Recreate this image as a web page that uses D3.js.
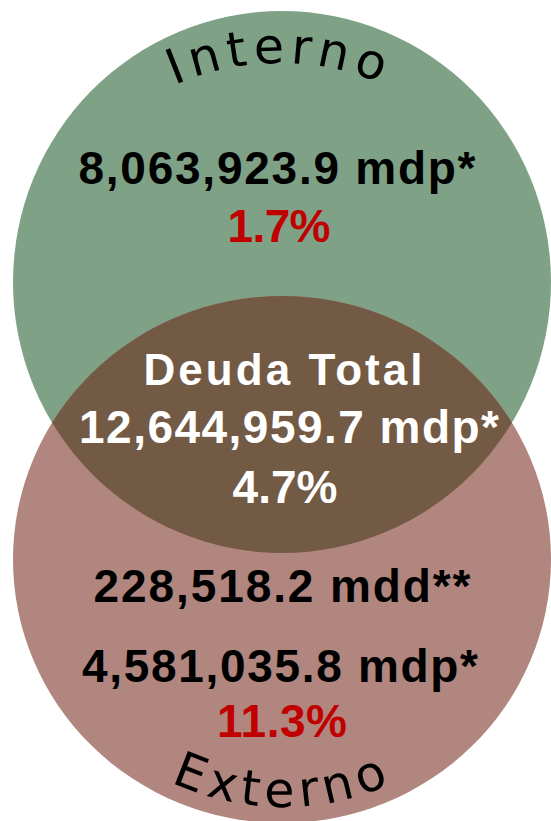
<!DOCTYPE html>
<html>
<head>
<meta charset="utf-8">
<script src="https://cdn.jsdelivr.net/npm/d3@7"></script>
<style>
  html, body { margin: 0; padding: 0; background: #ffffff; }
  svg { display: block; }
</style>
</head>
<body>
<svg id="chart" width="551" height="821"></svg>
<script>
// ---- data ----
const setNames   = ["Interno", "Externo"];
const setAmounts = [8063923.9, 4581035.8];      // mdp
const setUnits   = ["mdp*", "mdp*"];
const setRates   = [1.7, 11.3];                  // %
const externoUsd = 228518.2;                     // mdd
const externoUsdUnit = "mdd**";
const totalName   = "Deuda Total";
const totalAmount = 12644959.7;                  // mdp
const totalUnit   = "mdp*";
const totalRate   = 4.7;                         // %

// ---- formatting ----
const fmtAmt  = d3.format(",.1f");
const fmtRate = d => d3.format(".1f")(d) + "%";

// ---- layout ----
const svg = d3.select("#chart");
const colors = d3.scaleOrdinal().domain(setNames).range(["#7fa287", "#b0867f"]);
const overlapColor = "#735a45";

const shapes = [
  { name: setNames[0], cx: 282, cy: 282,   rx: 269, ry: 271 },
  { name: setNames[1], cx: 282, cy: 559.5, rx: 269, ry: 263.5 }
];

const defs = svg.append("defs");
defs.append("clipPath").attr("id", "clipTop")
  .append("ellipse")
  .attr("cx", shapes[0].cx).attr("cy", shapes[0].cy)
  .attr("rx", shapes[0].rx).attr("ry", shapes[0].ry);

svg.selectAll("ellipse.set").data(shapes).join("ellipse")
  .attr("class", "set")
  .attr("cx", d => d.cx).attr("cy", d => d.cy)
  .attr("rx", d => d.rx).attr("ry", d => d.ry)
  .attr("fill", d => colors(d.name));

// intersection lens
svg.append("ellipse")
  .attr("cx", shapes[1].cx).attr("cy", shapes[1].cy)
  .attr("rx", shapes[1].rx).attr("ry", shapes[1].ry)
  .attr("clip-path", "url(#clipTop)")
  .attr("fill", overlapColor);

// ---- curved set names ----
function arcPath(cx, cy, R, top) {
  const th = 70 * Math.PI / 180;
  const x0 = cx - R * Math.sin(th), x1 = cx + R * Math.sin(th);
  if (top) {
    const y = cy - R * Math.cos(th);
    return `M${x0},${y} A${R},${R} 0 0 1 ${x1},${y}`;
  } else {
    const y = cy + R * Math.cos(th);
    return `M${x0},${y} A${R},${R} 0 0 0 ${x1},${y}`;
  }
}
const R = 262;
const arcs = [
  { id: "arcInterno", d: arcPath(280, 63 + R, R, true) },
  { id: "arcExterno", d: arcPath(283, 807 - R, R, false) }
];
defs.selectAll("path").data(arcs).join("path")
  .attr("id", d => d.id).attr("d", d => d.d);

setNames.forEach((name, i) => {
  svg.append("text")
    .attr("font-family", "'DejaVu Sans', sans-serif")
    .attr("font-size", 49)
    .attr("letter-spacing", 6)
    .attr("fill", "#000")
    .append("textPath")
    .attr("href", "#" + arcs[i].id)
    .attr("startOffset", "50%")
    .attr("text-anchor", "middle")
    .attr("dx", 3)
    .text(name);
});

// ---- value labels ----
const lines = [
  { text: fmtAmt(setAmounts[0]) + " " + setUnits[0], x: 277, y: 184, w: 397, fill: "#000", size: 46 },
  { text: fmtRate(setRates[0]),                      x: 279, y: 242, w: 103, fill: "#c00000", size: 46 },
  { text: totalName,                                 x: 283, y: 385, w: 279, fill: "#fff", size: 44 },
  { text: fmtAmt(totalAmount) + " " + totalUnit,     x: 289, y: 443, w: 420, fill: "#fff", size: 46 },
  { text: fmtRate(totalRate),                        x: 285, y: 503, w: 105, fill: "#fff", size: 46 },
  { text: fmtAmt(externoUsd) + " " + externoUsdUnit, x: 282, y: 602, w: 377, fill: "#000", size: 46 },
  { text: fmtAmt(setAmounts[1]) + " " + setUnits[1], x: 280, y: 682, w: 396, fill: "#000", size: 46 },
  { text: fmtRate(setRates[1]),                      x: 282, y: 737, w: 130, fill: "#c00000", size: 46 }
];

svg.selectAll("text.lbl").data(lines).join("text")
  .attr("class", "lbl")
  .attr("x", d => d.x).attr("y", d => d.y)
  .attr("text-anchor", "middle")
  .attr("font-family", "'Liberation Sans', Arial, sans-serif")
  .attr("font-weight", "bold")
  .attr("font-size", d => d.size)
  .attr("textLength", d => d.w)
  .attr("lengthAdjust", "spacing")
  .attr("fill", d => d.fill)
  .text(d => d.text);
</script>
</body>
</html>
